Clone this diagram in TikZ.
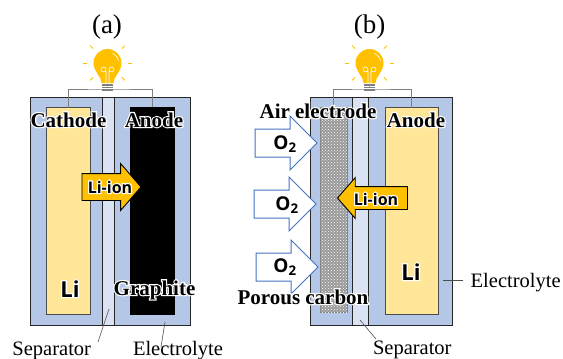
\documentclass[tikz,border=0pt]{standalone}
\usepackage{fontspec}
\setmainfont{Liberation Serif}
\newfontfamily\labelsans{Open Sans}
\definecolor{elyte}{HTML}{B4C7E7}
\definecolor{sepfill}{HTML}{DAE3F3}
\definecolor{lifill}{HTML}{FFE699}
\definecolor{amber}{HTML}{FFC000}
\definecolor{oxblue}{HTML}{4472C4}
\definecolor{wiregray}{HTML}{7F7F7F}
\usetikzlibrary{positioning,shapes.arrows,patterns}
\newcommand{\glow}[1]{\leavevmode\rlap{\special{pdf:code q 2 Tr 2.4 w 1 1 1 RG 1 1 1 rg}#1\special{pdf:code Q}}#1}

\begin{document}
\begin{tikzpicture}[x=1pt,y=-1pt,
      every node/.style={inner sep=0pt,outer sep=0pt},
      cell/.style={draw=black!85,line width=1pt,fill=elyte,minimum height=228pt},
      sepbox/.style={draw=black!85,line width=1pt,fill=sepfill,minimum height=228pt},
      lielec/.style={draw=black!70,line width=0.6pt,fill=lifill},
      wire/.style={draw=wiregray,line width=0.8pt},
      leader/.style={draw=black!70,line width=0.6pt},
      panel/.style={font=\fontsize{27}{27}\selectfont},
      caption/.style={font=\fontsize{20.5}{22}\selectfont,anchor=base west},
      tag/.style={font=\fontsize{21}{24}\selectfont\bfseries,anchor=base},
      sanstag/.style={font=\fontsize{16}{18}\labelsans\bfseries},
      litag/.style={font=\fontsize{22}{24}\labelsans\bfseries,anchor=base},
      oxtag/.style={font=\fontsize{19}{22}\labelsans\bfseries},
      oxarrow/.style={single arrow,anchor=tip,draw=oxblue,line width=1pt,fill=white,
        inner ysep=13.5pt,minimum height=62pt,minimum width=53pt,single arrow head extend=13pt},
      ionarrow/.style={single arrow,anchor=tip,draw=black,line width=0.9pt,fill=amber,
        single arrow tip angle=98},
      bulb/.pic={
        \foreach \ang in {0,45,90,135,180,225,315}
          \draw[amber,line width=0.8pt] (\ang:20.5) -- (\ang:24.5);
        \fill[amber] (-6,20) .. controls (-6,13) and (-14,9) .. (-14,0)
          arc[start angle=180,end angle=360,radius=14]
          .. controls (14,9) and (6,13) .. (6,20) -- cycle;
        \draw[white,line width=0.6pt] (-1.5,20) -- (-1.5,8) (1.5,20) -- (1.5,8)
          (-4,6.5) circle[radius=2.5] (4,6.5) circle[radius=2.5];
        \draw[white,line width=0.6pt] (5,-10) .. controls (8,-8) and (10,-6) .. (11,-2);
        \foreach \yy in {22,24.5,27}
          \draw[wiregray,line width=1.2pt] (-5.5,\yy) -- (5.5,\yy);
      }]
    \useasboundingbox (0,0) rectangle (563,359);

    % panel (a)
    \node[cell,minimum width=160pt] (cella) at (110,211) {};
    \node[sepbox,minimum width=12pt] (sepa) at (108,211) {};
    \node[lielec,minimum width=43.5pt,minimum height=207pt] (cath) at (68.2,211) {};
    \node[fill=black,minimum width=45pt,minimum height=208pt] (grap) at (152.5,211) {};
    \pic (bulba) at (107.5,63) {bulb};
    \draw[wire] (cath.north) |- (107.5,89) -| (grap.north);
    \node[ionarrow,inner ysep=13pt,minimum height=59pt,minimum width=46pt,single arrow head extend=10pt] (iona) at (141,187) {};
    \node[panel] (laba) at (107,27) {(a)};

    \node[tag] (catha) at (68.5,127) {\glow{Cathode}};
    \node[tag] (anoa) at (154,127) {\glow{Anode}};
    \node[tag] (grapa) at (154.5,295) {\glow{Graphite}};
    \node[litag] (lia) at (70,297) {\glow{Li}};
    \node[sanstag] (iontxta) at (110,187) {\glow{Li-ion}};
    \node[caption] (sepla) at (12.5,355.5) {Separator};
    \node[caption] (elyla) at (133,355.5) {Electrolyte};
    \coordinate (sepina) at (109,309);
    \coordinate (sepouta) at (98,342);
    \coordinate (elyina) at (165,322);
    \coordinate (elyouta) at (161,347);
    \draw[leader] (sepina) -- (sepouta);
    \draw[leader] (elyina) -- (elyouta);

    % panel (b)
    \node[cell,minimum width=142pt] (cellb) at (381,211.5) {};
    \node[sepbox,minimum width=15.5pt] (sepb) at (360.5,211.5) {};
    \node[draw=black!50,line width=0.5pt,fill=black!40,minimum width=27pt,minimum height=205pt] (carb) at (333.5,209.5) {};
    \fill[pattern=crosshatch dots,pattern color=white] (carb.north west) rectangle (carb.south east);
    \node[lielec,minimum width=53pt,minimum height=207pt] (anob) at (411.5,211) {};
    \pic (bulbb) at (369.5,63) {bulb};
    \draw[wire] (carb.north) |- (369.5,89) -| (anob.north);
    \node[ionarrow,inner ysep=11pt,minimum height=70pt,minimum width=40pt,single arrow head extend=9pt,shape border rotate=180] (ionb) at (337.5,198) {};
    \node[oxarrow] (oxa) at (317,143) {};
    \node[oxarrow] (oxb) at (316,204) {};
    \node[oxarrow] (oxc) at (318,267) {};
    \node[panel] (labb) at (369.5,27) {(b)};

    \node[tag] (airb) at (318,118) {\glow{Air electrode}};
    \node[tag] (anob2) at (416,127) {\glow{Anode}};
    \node[tag] (porb) at (303,304) {\glow{Porous carbon}};
    \node[litag] (lib) at (411,280) {\glow{Li}};
    \node[sanstag] (iontxtb) at (376,199) {\glow{Li-ion}};
    \foreach \nm/\xx/\yy in {a/285/144,b/287/205,c/285/267}
      \node[oxtag] (oxt\nm) at (\xx,\yy) {O\textsubscript{2}};
    \node[caption] (elylb) at (470.7,287) {Electrolyte};
    \node[caption] (seplb) at (373,354.5) {Separator};
    \coordinate (elyinb) at (443,280);
    \coordinate (elyoutb) at (463,280);
    \coordinate (sepinb) at (360,320);
    \coordinate (sepoutb) at (376,339);
    \draw[leader] (elyinb) -- (elyoutb);
    \draw[leader] (sepinb) -- (sepoutb);
  \end{tikzpicture}
\end{document}
